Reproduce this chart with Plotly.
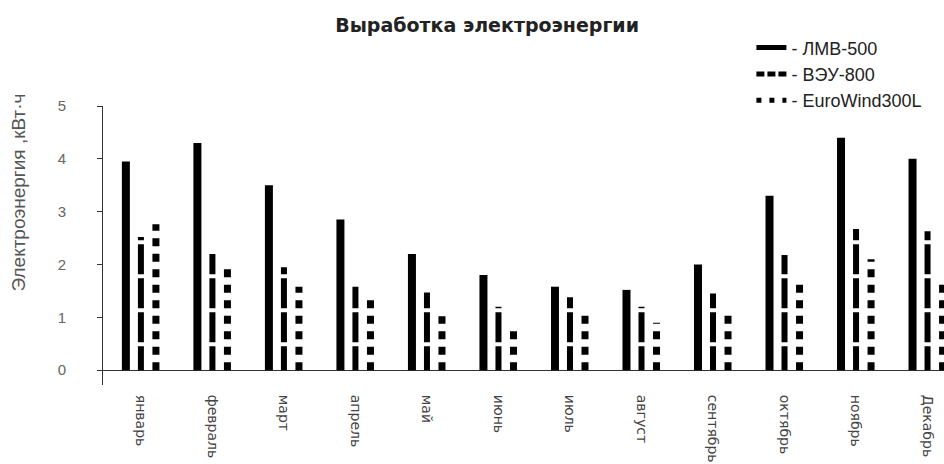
import plotly.graph_objects as go

months = ["январь", "февраль", "март", "апрель", "май", "июнь",
          "июль", "август", "сентябрь", "октябрь", "ноябрь", "Декабрь"]
lmv500 = [3.95, 4.30, 3.50, 2.85, 2.20, 1.80, 1.58, 1.52, 2.00, 3.30, 4.40, 4.00]
veu800 = [2.52, 2.20, 1.95, 1.58, 1.47, 1.20, 1.38, 1.20, 1.45, 2.18, 2.67, 2.63]
eurowind = [2.76, 1.95, 1.58, 1.36, 1.02, 0.83, 1.07, 0.90, 1.11, 1.66, 2.10, 1.68]
series_names = ["ЛМВ-500", "ВЭУ-800", "EuroWind300L"]
y_ticks = [0, 1, 2, 3, 4, 5]

series = [lmv500, veu800, eurowind]
offsets = [-0.21, 0.0, 0.21]
bar_styles = [
    dict(width=8, dash="solid"),
    dict(width=6, dash="24px,4px,30px,4px,30px,4px,30px,4px,30px,4px,30px,4px"),
    dict(width=7, dash="8px,7.5px"),
]
legend_styles = [
    dict(width=5, dash="solid"),
    dict(width=5, dash="8px,3px"),
    dict(width=5, dash="5px,8px"),
]


def stems(values, off):
    xs, ys = [], []
    for i, v in enumerate(values):
        xs += [i + off, i + off, None]
        ys += [0, v, None]
    return xs, ys


fig = go.Figure()
for vals, off, st, name in zip(series, offsets, bar_styles, series_names):
    xs, ys = stems(vals, off)
    fig.add_trace(go.Scatter(
        x=xs, y=ys, mode="lines", name=name, showlegend=False,
        line=dict(color="black", width=st["width"], dash=st["dash"]),
        hoverinfo="skip", legendgroup=name,
    ))
for st, name in zip(legend_styles, series_names):
    fig.add_trace(go.Scatter(
        x=[None], y=[None], mode="lines", name="- " + name,
        line=dict(color="black", width=st["width"], dash=st["dash"]),
        legendgroup=name, showlegend=True,
    ))

fig.update_layout(
    width=944, height=464,
    margin=dict(l=103, r=0, t=106, b=79, pad=0),
    paper_bgcolor="white", plot_bgcolor="white",
    title=dict(text="<b>Выработка электроэнергии</b>", x=0.516, xanchor="center",
               y=0.946, yanchor="middle",
               font=dict(family="DejaVu Sans", size=19, color="#222")),
    legend=dict(x=0.771, y=1.275, xanchor="left", yanchor="top",
                font=dict(family="Liberation Sans", size=18, color="#222"),
                bgcolor="rgba(0,0,0,0)", tracegroupgap=0),
    xaxis=dict(range=[-0.53, 11.23], tickmode="array",
               tickvals=list(range(len(months))), ticktext=months,
               tickangle=90, showline=False, showgrid=False, zeroline=False,
               ticks="outside", ticklen=6, tickcolor="rgba(0,0,0,0)",
               automargin=False,
               tickfont=dict(family="DejaVu Sans", size=14, color="#444")),
    yaxis=dict(range=[-0.28, 5], tickmode="array", tickvals=y_ticks,
               showline=True, linecolor="#333", linewidth=1,
               ticks="outside", ticklen=5, tickcolor="#333",
               zeroline=True, zerolinecolor="#333", zerolinewidth=1,
               showgrid=False, automargin=False, ticklabelstandoff=28,
               tickfont=dict(family="Liberation Sans", size=15, color="#666")),
    annotations=[dict(text="Электроэнергия ,кВт·ч", textangle=-90,
                      xref="paper", yref="paper", x=-0.101, y=0.69,
                      xanchor="center", yanchor="middle", showarrow=False,
                      font=dict(family="Liberation Sans", size=19, color="#555"))],
)

fig.write_html("out.html")
